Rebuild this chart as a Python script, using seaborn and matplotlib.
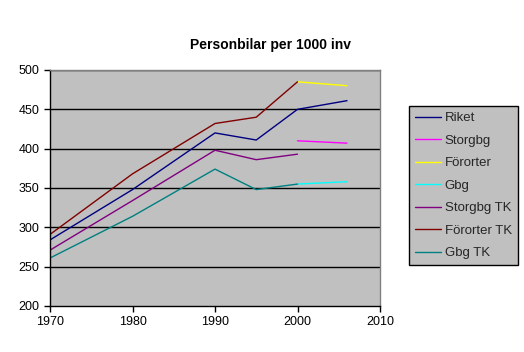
import matplotlib
matplotlib.use("Agg")
import matplotlib.pyplot as plt
import seaborn as sns
import pandas as pd
import numpy as np
from matplotlib.lines import Line2D

years_full = [1970, 1980, 1990, 1995, 2000, 2006]
years_tk = [1970, 1980, 1990, 1995, 2000]
years_new = [2000, 2006]

riket = [284, 348, 420, 411, 450, 461]
storgbg = [410, 407]
fororter = [485, 480]
gbg = [355, 358]
storgbg_tk = [271, 334, 398, 386, 393]
fororter_tk = [291, 368, 432, 440, 485]
gbg_tk = [261, 314, 374, 348, 355]

series_names = ["Riket", "Storgbg", "Förorter", "Gbg", "Storgbg TK", "Förorter TK", "Gbg TK"]
colors = ["#000080", "#ff00ff", "#ffff00", "#00ffff", "#800080", "#800000", "#008080"]

rows = []
for name, yrs, vals in [
    ("Riket", years_full, riket),
    ("Storgbg", years_new, storgbg),
    ("Förorter", years_new, fororter),
    ("Gbg", years_new, gbg),
    ("Storgbg TK", years_tk, storgbg_tk),
    ("Förorter TK", years_tk, fororter_tk),
    ("Gbg TK", years_tk, gbg_tk),
]:
    for y, v in zip(yrs, vals):
        rows.append({"year": y, "value": v, "series": name})
df = pd.DataFrame(rows)

sns.set_style("white")
plt.rcParams["font.family"] = ["Liberation Sans", "DejaVu Sans"]

fig = plt.figure(figsize=(5.24, 3.52), dpi=100)
ax = fig.add_axes([50/524, 1-306/352, 330/524, 236/352])
ax.set_facecolor("#c0c0c0")

sns.lineplot(data=df, x="year", y="value", hue="series", hue_order=series_names,
             palette=dict(zip(series_names, colors)), linewidth=1.0, ax=ax,
             legend=False, estimator=None, sort=True)

ax.set_xlim(1970, 2010)
ax.set_ylim(200, 500)
ax.set_xticks([1970, 1980, 1990, 2000, 2010])
ax.set_yticks([200, 250, 300, 350, 400, 450, 500])
ax.set_xlabel("")
ax.set_ylabel("")
for v in [250, 300, 350, 400, 450, 500]:
    ax.axhline(v, color="black", linewidth=1.0, zorder=0.5)
ax.tick_params(axis="both", direction="out", length=4, width=1, colors="black",
               labelsize=9, left=True, bottom=True)
for s in ["left", "bottom"]:
    ax.spines[s].set_color("black")
    ax.spines[s].set_linewidth(1.0)
for s in ["top", "right"]:
    ax.spines[s].set_color("#808080")
    ax.spines[s].set_linewidth(1.0)

fig.text(270/524, 1-45/352, "Personbilar per 1000 inv",
         ha="center", va="center", fontsize=10, fontweight="bold", color="black")

handles = [Line2D([0], [0], color=c, linewidth=1.0) for c in colors]
leg = fig.legend(handles, series_names, loc="upper left",
                 bbox_to_anchor=(409/524, 1-106/352), frameon=True,
                 fontsize=9.5, handlelength=2.0, handletextpad=0.25,
                 labelspacing=0.78, borderpad=0.45, borderaxespad=0.0,
                 fancybox=False)
leg.get_frame().set_facecolor("#c0c0c0")
leg.get_frame().set_edgecolor("black")
leg.get_frame().set_linewidth(1.0)
leg.get_frame().set_alpha(1.0)

fig.savefig("out.png", dpi=100, facecolor="white")
